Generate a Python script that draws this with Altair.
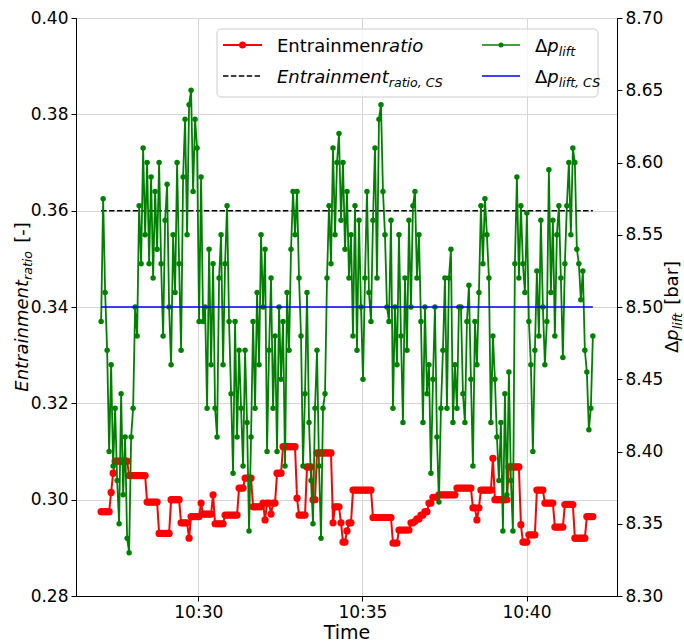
import altair as alt
import pandas as pd

FONT = "DejaVu Sans"

# ---- data ----
start_min = 27.04      # first sample: 10:27:02 (minutes after 10:00)
step_min = 0.0609      # sampling period in minutes

dp_lift = [
    8.49, 8.575, 8.51, 8.47, 8.40, 8.46, 8.39, 8.43, 8.38, 8.35,
    8.44, 8.37, 8.41, 8.34, 8.33, 8.41, 8.43, 8.50, 8.48, 8.57,
    8.53, 8.61, 8.55, 8.60, 8.53, 8.59, 8.52, 8.58, 8.54, 8.60,
    8.53, 8.48, 8.56, 8.585, 8.50, 8.46, 8.55, 8.51, 8.60, 8.53,
    8.47, 8.59, 8.63, 8.55, 8.64, 8.65, 8.58, 8.63, 8.61, 8.49,
    8.59, 8.49, 8.50, 8.43, 8.54, 8.46, 8.53, 8.43, 8.41, 8.52,
    8.55, 8.46, 8.53, 8.57, 8.49, 8.44, 8.385, 8.49, 8.41, 8.47,
    8.43, 8.39, 8.47, 8.42, 8.345, 8.41, 8.49, 8.43, 8.51, 8.46,
    8.55, 8.50, 8.54, 8.40, 8.47, 8.52, 8.43, 8.48, 8.40, 8.50,
    8.45, 8.49, 8.39, 8.51, 8.47, 8.54, 8.58, 8.55, 8.58, 8.52,
    8.48, 8.39, 8.44, 8.51, 8.42, 8.38, 8.35, 8.43, 8.47, 8.39,
    8.34, 8.43, 8.44, 8.52, 8.57, 8.53, 8.61, 8.55, 8.60, 8.62,
    8.56, 8.60, 8.54, 8.58, 8.52, 8.55, 8.48, 8.57, 8.47, 8.56,
    8.50, 8.45, 8.52, 8.58, 8.51, 8.49, 8.56, 8.61, 8.52, 8.63,
    8.64, 8.58, 8.55, 8.50, 8.49, 8.56, 8.43, 8.50, 8.46, 8.55,
    8.48, 8.42, 8.52, 8.47, 8.56, 8.50, 8.57, 8.58, 8.52, 8.55,
    8.49, 8.42, 8.50, 8.44, 8.46, 8.385, 8.45, 8.50, 8.41, 8.365,
    8.43, 8.47, 8.52, 8.43, 8.52, 8.54, 8.42, 8.46, 8.43, 8.50,
    8.50, 8.44, 8.42, 8.49, 8.515, 8.45, 8.39, 8.49, 8.46, 8.51,
    8.57, 8.53, 8.575, 8.55, 8.52, 8.42, 8.48, 8.45, 8.41, 8.38,
    8.42, 8.345, 8.44, 8.37, 8.455, 8.38, 8.345, 8.53, 8.59, 8.52,
    8.57, 8.53, 8.51, 8.565, 8.49, 8.46, 8.40, 8.47, 8.525, 8.48,
    8.56, 8.50, 8.46, 8.49, 8.595, 8.51, 8.56, 8.48, 8.55, 8.57,
    8.52, 8.465, 8.53, 8.57, 8.60, 8.55, 8.61, 8.60, 8.54, 8.53,
    8.505, 8.525, 8.47, 8.455, 8.415, 8.43, 8.48,
]

entrainment = [
    0.2975, 0.2975, 0.2975, 0.2975, 0.2975, 0.3015, 0.3055, 0.308, 0.308, 0.308,
    0.308, 0.308, 0.308, 0.308, 0.305, 0.305, 0.305, 0.305, 0.305, 0.305,
    0.305, 0.305, 0.305, 0.2995, 0.2995, 0.2995, 0.2995, 0.2995, 0.2995, 0.293,
    0.293, 0.293, 0.293, 0.293, 0.293, 0.300, 0.300, 0.300, 0.300, 0.300,
    0.2952, 0.2952, 0.2952, 0.2952, 0.292, 0.2965, 0.2965, 0.2965, 0.2965, 0.2965,
    0.2993, 0.297, 0.297, 0.297, 0.297, 0.297, 0.301, 0.295, 0.295, 0.295,
    0.295, 0.295, 0.2968, 0.2968, 0.2968, 0.2968, 0.2968, 0.2968, 0.2968, 0.3024,
    0.3024, 0.3024, 0.3045, 0.3045, 0.3045, 0.3045, 0.2985, 0.2985, 0.2985, 0.2985,
    0.2985, 0.2993, 0.2958, 0.2993, 0.2993, 0.297, 0.2993, 0.2993, 0.3055, 0.3055,
    0.3055, 0.311, 0.311, 0.311, 0.311, 0.311, 0.311, 0.311, 0.3003, 0.2968,
    0.2968, 0.2968, 0.2968, 0.3068, 0.3068, 0.3068, 0.300, 0.300, 0.3097, 0.3097,
    0.3097, 0.3097, 0.3097, 0.3097, 0.3097, 0.3097, 0.2952, 0.2985, 0.2985, 0.2985,
    0.2952, 0.2912, 0.2912, 0.2935, 0.2952, 0.2952, 0.302, 0.302, 0.302, 0.302,
    0.302, 0.302, 0.302, 0.302, 0.302, 0.302, 0.2963, 0.2963, 0.2963, 0.2963,
    0.2963, 0.2963, 0.2963, 0.2963, 0.2963, 0.2963, 0.291, 0.291, 0.291, 0.2937,
    0.2937, 0.2937, 0.2937, 0.2937, 0.2937, 0.2952, 0.2952, 0.2955, 0.296, 0.296,
    0.2968, 0.2968, 0.2975, 0.2975, 0.2993, 0.2993, 0.3005, 0.3005, 0.3005, 0.301,
    0.301, 0.301, 0.301, 0.301, 0.301, 0.301, 0.301, 0.301, 0.3024, 0.3024,
    0.3024, 0.3024, 0.3024, 0.3024, 0.3024, 0.3024, 0.2983, 0.2983, 0.2958, 0.2983,
    0.302, 0.302, 0.302, 0.302, 0.302, 0.302, 0.3086, 0.300, 0.300, 0.300,
    0.300, 0.300, 0.300, 0.300, 0.3068, 0.3068, 0.3068, 0.3068, 0.3068, 0.3068,
    0.2948, 0.2912, 0.2912, 0.2912, 0.2927, 0.2927, 0.2927, 0.2927, 0.302, 0.302,
    0.302, 0.302, 0.2993, 0.2993, 0.2993, 0.2993, 0.2993, 0.2943, 0.2943, 0.2943,
    0.2943, 0.2943, 0.299, 0.299, 0.299, 0.299, 0.299, 0.292, 0.292, 0.292,
    0.292, 0.292, 0.292, 0.2965, 0.2965, 0.2965, 0.2965,
]

entrainment_cs = 0.36
dp_lift_cs = 8.50

x_ticks = [30, 35, 40]
y_left_ticks = [0.28, 0.30, 0.32, 0.34, 0.36, 0.38, 0.40]
y_right_ticks = [8.30, 8.35, 8.40, 8.45, 8.50, 8.55, 8.60, 8.65, 8.70]

n = min(len(dp_lift), len(entrainment))
times = [round(start_min + i * step_min, 4) for i in range(n)]
df = pd.DataFrame({"t": times, "ent": entrainment[:n], "dp": dp_lift[:n]})
cs_df = pd.DataFrame({"t": [times[0], times[-1]],
                      "ent_cs": [entrainment_cs] * 2,
                      "dp_cs": [dp_lift_cs] * 2})
one = pd.DataFrame({"k": [0]})

# ---- layout ----
W, H = 541, 578
PAD = {"left": 76, "top": 18, "right": 684 - 76 - W, "bottom": 641 - 18 - H}

x_scale = alt.Scale(domain=[26.274, 42.757], nice=False, zero=False)
x_axis = alt.Axis(values=x_ticks, labelExpr="'10:' + datum.value", title="Time",
                  grid=True, titleFontSize=19, titlePadding=3, labelFontSize=17,
                  labelPadding=3, tickSize=5)
X = alt.X("t:Q", scale=x_scale, axis=x_axis)

yl_scale = alt.Scale(domain=[0.28, 0.40], nice=False, zero=False)
yl_axis = alt.Axis(orient="left", values=y_left_ticks, format=".2f", title=None,
                   grid=True, labelFontSize=17, labelPadding=3, tickSize=5)
yr_scale = alt.Scale(domain=[8.30, 8.70], nice=False, zero=False)
yr_axis = alt.Axis(orient="right", values=y_right_ticks, format=".2f", title=None,
                   grid=False, labelFontSize=17, labelPadding=3, tickSize=5)

base = alt.Chart(df)
red_line = base.mark_line(color="red", strokeWidth=2).encode(
    x=X, y=alt.Y("ent:Q", scale=yl_scale, axis=yl_axis))
red_pts = base.mark_point(color="red", filled=True, opacity=1, size=52).encode(
    x=X, y=alt.Y("ent:Q", scale=yl_scale, axis=yl_axis))
dash = alt.Chart(cs_df).mark_line(color="black", strokeWidth=1.5,
                                  strokeDash=[5.5, 2.4]).encode(
    x=X, y=alt.Y("ent_cs:Q", scale=yl_scale, axis=yl_axis))
left = alt.layer(red_line, red_pts, dash)

green_line = base.mark_line(color="green", strokeWidth=1.8).encode(
    x=X, y=alt.Y("dp:Q", scale=yr_scale, axis=yr_axis))
green_pts = base.mark_point(color="green", filled=True, opacity=1, size=30).encode(
    x=X, y=alt.Y("dp:Q", scale=yr_scale, axis=yr_axis))
blue = alt.Chart(cs_df).mark_line(color="blue", strokeWidth=1.5).encode(
    x=X, y=alt.Y("dp_cs:Q", scale=yr_scale, axis=yr_axis))
right = alt.layer(green_line, green_pts, blue)

# ---- text helpers (mathtext-like labels) ----
CW = {"E": .632, "n": .634, "t": .392, "r": .411, "a": .613, "i": .278, "m": .974,
      "e": .615, "o": .612, " ": .318, "[": .390, "-": .361, "]": .390,
      "Δ": .684, "p": .635, "l": .278, "f": .352, "b": .635, "C": .698, "S": .635,
      ",": .318}


def tw(s, size):
    return sum(CW.get(c, 0.6) for c in s) * size


def txt(s, x, y, size=18, italic=False, angle=0):
    mk = dict(text=s, align="left", baseline="alphabetic", font=FONT,
              fontSize=size, color="black")
    if italic:
        mk["fontStyle"] = "italic"
    if angle:
        mk["angle"] = angle
    return alt.Chart(one).mark_text(**mk).encode(x=alt.value(x), y=alt.value(y))


ann = []
F, FS = 18, 12.6
SUB = 4
GAP = 0.45 * F   # word space between math part and unit

# left y title (rotated, reads bottom to top): (text, size, italic, shift, gap before)
parts = [("Entrainment", F, True, 0, 0), ("ratio", FS, True, SUB, 0), ("[-]", F, False, 0, GAP)]
total = sum(tw(s, sz) + g for s, sz, _, _, g in parts)
yy = H / 2 + total / 2
bx = -48
for s, sz, it, sh, g in parts:
    yy -= g
    ann.append(txt(s, bx + sh, yy, sz, it, 270))
    yy -= tw(s, sz)

# right y title
parts = [("Δ", F, False, 0, 0), ("p", F, True, 0, 0), ("lift", FS, True, SUB, 0),
         ("[bar]", F, False, 0, GAP)]
total = sum(tw(s, sz) + g for s, sz, _, _, g in parts)
yy = H / 2 + total / 2
bx = W + 61
for s, sz, it, sh, g in parts:
    yy -= g
    ann.append(txt(s, bx + sh, yy, sz, it, 270))
    yy -= tw(s, sz)

# legend
ann.append(alt.Chart(one).mark_rect(fill="white", fillOpacity=0.8, stroke="#cccccc",
                                    strokeWidth=1, cornerRadius=4).encode(
    x=alt.value(141), x2=alt.value(522), y=alt.value(11), y2=alt.value(79)))


def sample(x1, x2, y, color, dashed=False, width=1.5):
    mk = dict(color=color, strokeWidth=width)
    if dashed:
        mk["strokeDash"] = [5.5, 2.4]
    return alt.Chart(one).mark_rule(**mk).encode(
        x=alt.value(x1), x2=alt.value(x2), y=alt.value(y))


def dot(x, y, color, size):
    return alt.Chart(one).mark_point(color=color, filled=True, opacity=1, size=size).encode(
        x=alt.value(x), y=alt.value(y))


r1, r2 = 27, 58
b1, b2 = 34, 65.3
ann += [sample(147, 186, r1, "red", width=2), dot(166.5, r1, "red", 49),
        sample(147, 186, r2, "black", dashed=True),
        sample(406, 444, r1, "green"), dot(425, r1, "green", 25),
        sample(406, 444, r2, "blue")]
tx = 201
ann.append(txt("Entrainmen", tx, b1))
ann.append(txt("ratio", tx + tw("Entrainmen", F), b1, italic=True))
ann.append(txt("Entrainment", tx, b2, italic=True))
ann.append(txt("ratio, CS", tx + tw("Entrainment", F), b2 + SUB, FS, italic=True))
tx2 = 459
for yb, sub in [(b1, "lift"), (b2, "lift, CS")]:
    ann.append(txt("Δ", tx2, yb))
    ann.append(txt("p", tx2 + tw("Δ", F), yb, italic=True))
    ann.append(txt(sub, tx2 + tw("Δp", F), yb + SUB, FS, italic=True))

chart = alt.layer(left, right, *ann).resolve_scale(y="independent").properties(
    width=W, height=H, padding=PAD, autosize=alt.AutoSizeParams(type="none")
).configure_view(stroke="black", strokeWidth=1).configure_axis(
    domainColor="black", tickColor="black", labelColor="black", titleColor="black",
    labelFont=FONT, titleFont=FONT, titleFontWeight="normal", gridColor="#d6d6d6",
    domainWidth=1, tickWidth=1)

chart.save("out.html", embed_options={"renderer": "svg", "actions": False})
